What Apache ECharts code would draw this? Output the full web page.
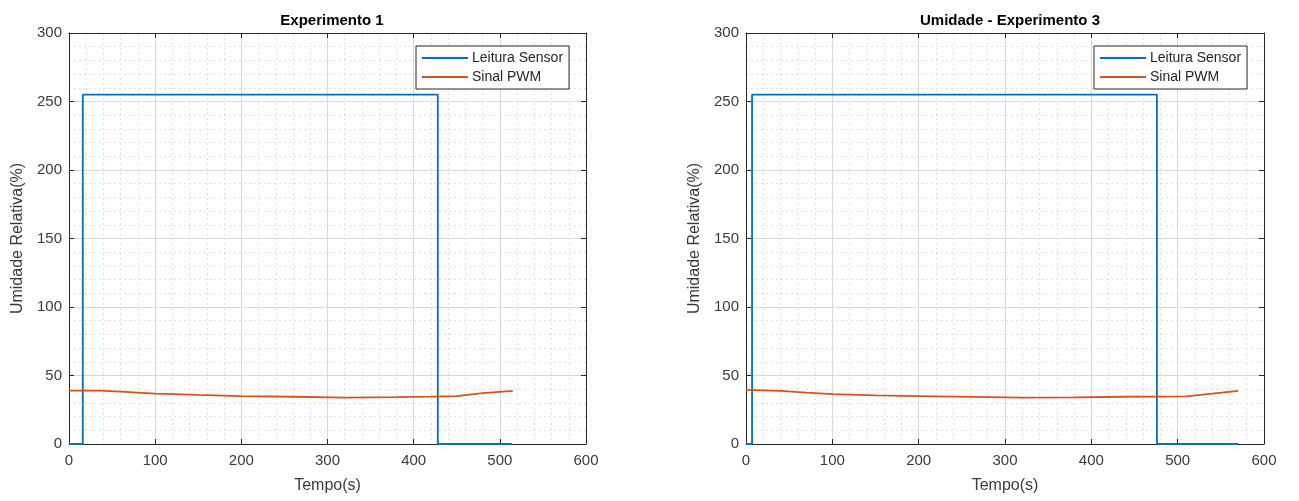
<!DOCTYPE html>
<html><head><meta charset="utf-8">
<script src="https://cdn.jsdelivr.net/npm/echarts@6/dist/echarts.min.js"></script>
<style>html,body{margin:0;padding:0;background:#fff}#c{width:1299px;height:501px}</style>
</head><body><div id="c"></div>
<script>
const titles = ['Experimento 1', 'Umidade - Experimento 3'];
const seriesNames = ['Leitura Sensor', 'Sinal PWM'];
const xTicks = [0, 100, 200, 300, 400, 500, 600];
const yTicks = [0, 50, 100, 150, 200, 250, 300];
// Experiment 1
const sensor1X = [0, 16, 16, 428, 428, 514];
const sensor1Y = [0, 0, 255, 255, 0, 0];
const pwm1X = [0, 35, 60, 100, 150, 200, 260, 320, 380, 420, 450, 480, 515];
const pwm1Y = [39, 39, 38.2, 36.8, 35.8, 35, 34.5, 33.8, 34.2, 34.6, 35, 37.2, 38.8];
// Experiment 3
const sensor3X = [0, 7, 7, 476, 476, 570];
const sensor3Y = [0, 0, 255, 255, 0, 0];
const pwm3X = [0, 40, 70, 100, 150, 200, 260, 320, 380, 440, 510, 540, 570];
const pwm3Y = [39.5, 38.8, 37.5, 36.4, 35.5, 35, 34.4, 33.8, 34.1, 34.5, 34.7, 36.8, 38.8];

const FONT = 'Liberation Sans';
const TXT = '#3a3a3a';
const grids = [
  {left: 69, right: 713, top: 33, bottom: 57},
  {left: 746, right: 35, top: 33, bottom: 57}
];
const xAxes = [], yAxes = [];
grids.forEach((g, i) => {
  const minorSplit = {show: true, lineStyle: {color: '#e0e0e0', type: [2, 3], width: 1}};
  xAxes.push({
    gridIndex: i, type: 'value', min: xTicks[0], max: xTicks[xTicks.length-1], interval: 100,
    name: 'Tempo(s)', nameLocation: 'middle', nameGap: 34,
    nameTextStyle: {fontFamily: FONT, fontSize: 16, color: TXT},
    axisLine: {show: true, onZero: false, lineStyle: {color: '#262626', width: 1}},
    axisTick: {show: true, inside: true, length: 5, lineStyle: {color: '#262626'}},
    axisLabel: {fontFamily: FONT, fontSize: 15, color: TXT, margin: 9},
    splitLine: {show: true, lineStyle: {color: '#d8d8d8', width: 1}},
    minorTick: {show: false, splitNumber: 5},
    minorSplitLine: minorSplit
  });
  xAxes.push({
    gridIndex: i, type: 'value', position: 'top', min: 0, max: 600, interval: 100,
    axisLine: {show: true, onZero: false, lineStyle: {color: '#262626', width: 1}},
    axisTick: {show: true, inside: true, length: 5, lineStyle: {color: '#262626'}},
    axisLabel: {show: false}, splitLine: {show: false}
  });
  yAxes.push({
    gridIndex: i, type: 'value', min: yTicks[0], max: yTicks[yTicks.length-1], interval: 50,
    name: 'Umidade Relativa(%)', nameLocation: 'middle', nameGap: 43,
    nameTextStyle: {fontFamily: FONT, fontSize: 16, color: TXT},
    axisLine: {show: true, onZero: false, lineStyle: {color: '#262626', width: 1}},
    axisTick: {show: true, inside: true, length: 5, lineStyle: {color: '#262626'}},
    axisLabel: {fontFamily: FONT, fontSize: 15, color: TXT, margin: 7},
    splitLine: {show: true, lineStyle: {color: '#d8d8d8', width: 1}},
    minorTick: {show: false, splitNumber: 5},
    minorSplitLine: minorSplit
  });
  yAxes.push({
    gridIndex: i, type: 'value', position: 'right', min: 0, max: 300, interval: 50,
    axisLine: {show: true, onZero: false, lineStyle: {color: '#262626', width: 1}},
    axisTick: {show: true, inside: true, length: 5, lineStyle: {color: '#262626'}},
    axisLabel: {show: false}, splitLine: {show: false}
  });
});
const zip = (xs, ys) => xs.map((x, k) => [x, ys[k]]);
const mk = (name, xi, yi, data, color) => ({
  name, type: 'line', xAxisIndex: xi, yAxisIndex: yi, data, symbol: 'none',
  lineStyle: {color, width: 1.8}, itemStyle: {color}, animation: false, z: 5
});
const BLUE = '#0072BD', ORANGE = '#D95319';
const series = [
  mk(seriesNames[0], 0, 0, zip(sensor1X, sensor1Y), BLUE),
  mk(seriesNames[1], 0, 0, zip(pwm1X, pwm1Y), ORANGE),
  mk(seriesNames[0], 2, 2, zip(sensor3X, sensor3Y), BLUE),
  mk(seriesNames[1], 2, 2, zip(pwm3X, pwm3Y), ORANGE)
];
const legendBase = {
  orient: 'vertical', top: 46, itemWidth: 46, itemHeight: 2, itemGap: 5,
  backgroundColor: '#fff', borderColor: '#262626', borderWidth: 1,
  padding: [5, 6, 5, 6], borderRadius: 0,
  textStyle: {fontFamily: FONT, fontSize: 14, color: '#262626', padding: [0, 0, 0, -1]},
  data: seriesNames.map(n => ({name: n, icon: 'rect'}))
};
const chart = echarts.init(document.getElementById('c'), null, {renderer: 'canvas'});
chart.setOption({
  backgroundColor: '#fff',
  animation: false,
  title: [
    {text: titles[0], left: 327, top: 8, textAlign: 'center', textStyle: {fontFamily: FONT, fontSize: 15, fontWeight: 'bold', color: '#000'}},
    {text: titles[1], left: 1005, top: 8, textAlign: 'center', textStyle: {fontFamily: FONT, fontSize: 15, fontWeight: 'bold', color: '#000'}}
  ],
  grid: grids.map(g => Object.assign({show: false}, g)),
  xAxis: xAxes,
  yAxis: yAxes,
  legend: [
    Object.assign({}, legendBase, {left: 416}),
    Object.assign({}, legendBase, {left: 1094})
  ],
  series
});
</script></body></html>
